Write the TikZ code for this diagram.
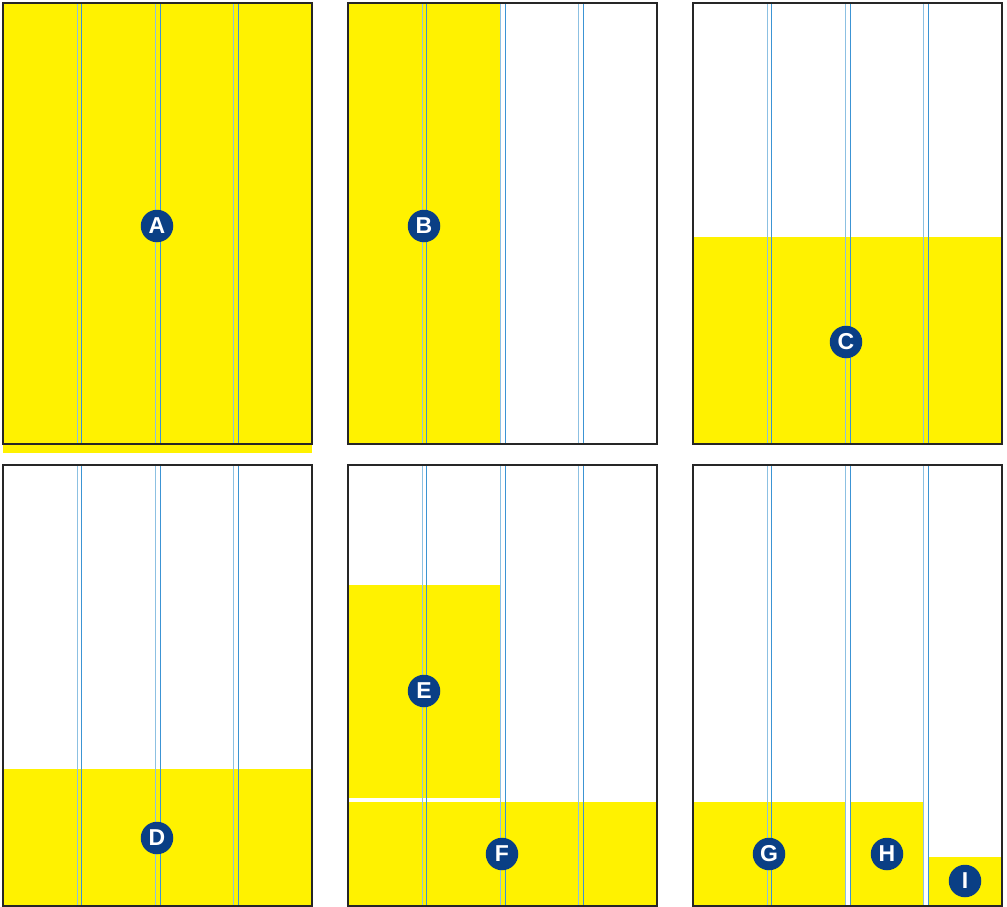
\documentclass[tikz,border=0pt]{standalone}
\usepackage{fontspec}
\setmainfont{Liberation Sans}
\usetikzlibrary{positioning}

\definecolor{spread}{RGB}{255,242,0}
\definecolor{badgeblue}{RGB}{10,63,133}
\definecolor{guidelt}{RGB}{140,192,226}
\definecolor{guidedk}{RGB}{60,148,212}

\begin{document}
\begin{tikzpicture}[x=1pt,y=-1pt,
  frame/.style={draw=black!85,line width=1.2pt},
  area/.style={fill=spread},
  badge/.style={circle,fill=badgeblue,text=white,inner sep=0pt,minimum size=32.5pt,
    font=\bfseries\fontsize{23}{23}\selectfont}]
\useasboundingbox (0,0) rectangle (1007,907);
% yellow areas
\fill[area] (3,3) rectangle (312,453);
\fill[area] (348,3) rectangle (500,445);
\fill[area] (693,237) rectangle (1002,445);
\fill[area] (3,769) rectangle (312,906);
\fill[area] (348,585) rectangle (500,798);
\fill[area] (348,802) rectangle (657,906);
\fill[area] (693,802) rectangle (844.5,906);
\fill[area] (850,802) rectangle (923.5,906);
\fill[area] (928.5,857) rectangle (1002,906);
% column guides and page frames
\foreach \px/\py in {3/3,348/3,693/3,3/465,348/465,693/465}{
  \foreach \gx in {74,152.5,230.5}{
    \draw[guidelt,line width=1pt] (\px+\gx,\py) -- ++(0,441);
    \draw[guidedk,line width=1pt] (\px+\gx+4.5,\py) -- ++(0,441);
  }
  \draw[frame] (\px,\py) rectangle ++(309,441);
}
% labels
\node[badge] (a) at (157,226) {A};
\node[badge] (b) at (424,226) {B};
\node[badge] (c) at (846,342) {C};
\node[badge] (d) at (157,838) {D};
\node[badge] (e) at (424,691) {E};
\node[badge] (f) at (502,854) {F};
\node[badge] (g) at (769,854) {G};
\node[badge] (h) at (887,854) {H};
\node[badge] (i) at (965,881) {I};
\end{tikzpicture}
\end{document}
